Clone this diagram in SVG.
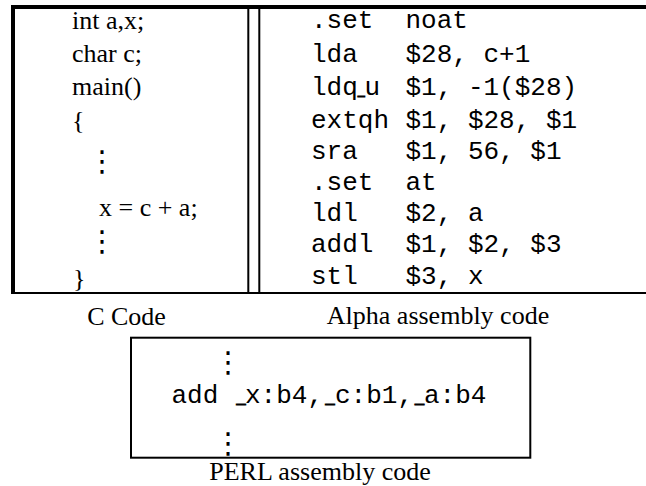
<svg xmlns="http://www.w3.org/2000/svg" width="646" height="486" viewBox="0 0 646 486">
<style>
  .serif { font-family: "Liberation Serif", "Times New Roman", serif; font-size: 26px; fill: #000; }
  .mono { font-family: "Liberation Mono", "Courier New", monospace; font-size: 26px; fill: #000; }
  .us { font-family: "Liberation Serif", serif; font-size: 18px; stroke: #000; stroke-width: 1.1; }
  .us2 { font-family: "Liberation Serif", serif; font-size: 13px; stroke: #000; stroke-width: 1.4; }
  .vd { font-family: "DejaVu Sans", sans-serif; font-size: 29px; fill: #000; text-anchor: middle; }
  .lbl { font-family: "Liberation Serif", "Times New Roman", serif; font-size: 26px; fill: #000; text-anchor: middle; }
  .rule { fill: #000; }
  .box { fill: none; stroke: #000; stroke-width: 2; }
</style>

<g id="table-frame">
  <rect class="rule" x="11" y="5" width="640" height="4"/>
  <rect class="rule" x="11" y="5" width="4" height="289"/>
  <rect class="rule" x="11" y="292" width="640" height="2"/>
  <rect class="rule" x="247.3" y="5" width="2" height="289"/>
  <rect class="rule" x="258.3" y="5" width="2" height="289"/>
</g>

<g id="c-code">
  <text class="serif" x="72" y="29">int a,x;</text>
  <text class="serif" x="72" y="62">char c;</text>
  <text class="serif" x="72" y="95">main()</text>
  <text class="serif" x="72" y="129">{</text>
  <text class="vd" x="102" y="171">⋮</text>
  <text class="serif" x="99" y="216">x = c + a;</text>
  <text class="vd" x="102" y="251">⋮</text>
  <text class="serif" x="73" y="287">}</text>
</g>

<g id="alpha-code">
  <text class="mono" y="28"><tspan x="311">.set</tspan> <tspan x="405.5">noat</tspan></text>
  <text class="mono" y="62"><tspan x="311">lda</tspan> <tspan x="405.5">$28, c+1</tspan></text>
  <text class="mono" y="95"><tspan x="311">ldq</tspan><tspan class="us2" x="358">_</tspan><tspan x="364.5">u</tspan> <tspan x="405.5">$1, -1($28)</tspan></text>
  <text class="mono" y="128"><tspan x="311">extqh</tspan> <tspan x="405.5">$1, $28, $1</tspan></text>
  <text class="mono" y="159"><tspan x="311">sra</tspan> <tspan x="405.5">$1, 56, $1</tspan></text>
  <text class="mono" y="190"><tspan x="311">.set</tspan> <tspan x="405.5">at</tspan></text>
  <text class="mono" y="221"><tspan x="311">ldl</tspan> <tspan x="405.5">$2, a</tspan></text>
  <text class="mono" y="252"><tspan x="311">addl</tspan> <tspan x="405.5">$1, $2, $3</tspan></text>
  <text class="mono" y="284"><tspan x="311">stl</tspan> <tspan x="405.5">$3, x</tspan></text>
</g>

<g id="perl-code">
  <rect class="box" x="131" y="337.7" width="399.3" height="120"/>
  <text class="vd" x="228" y="372">⋮</text>
  <text class="mono" y="403"><tspan x="171.5">add </tspan><tspan class="us" x="236.5">_</tspan><tspan x="245">x:b4,</tspan><tspan class="us" x="325.5">_</tspan><tspan x="335">c:b1,</tspan><tspan class="us" x="415">_</tspan><tspan x="424">a:b4</tspan></text>
  <text class="vd" x="228" y="453">⋮</text>
</g>

<g id="labels">
  <text class="lbl" x="126.5" y="325">C Code</text>
  <text class="lbl" x="438" y="324">Alpha assembly code</text>
  <text class="lbl" x="320" y="480">PERL assembly code</text>
</g>
</svg>
